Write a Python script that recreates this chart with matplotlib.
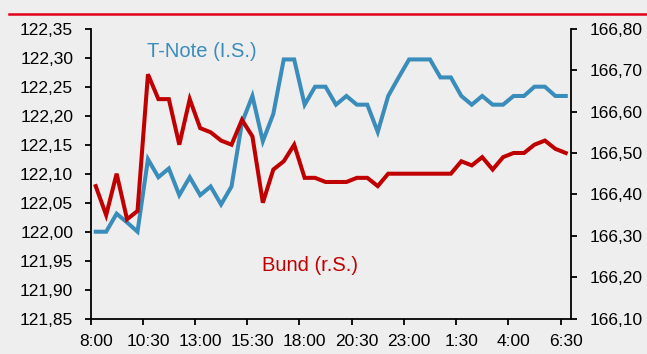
import numpy as np
import matplotlib
matplotlib.use("Agg")
import matplotlib.pyplot as plt
from matplotlib.ticker import FuncFormatter, FixedLocator, NullFormatter
from matplotlib.lines import Line2D

# half-hourly quotes, 8:00 to 6:30 next morning
tnote = [122.000, 122.000, 122.031, 122.016, 122.000, 122.125, 122.094, 122.109,
         122.063, 122.094, 122.063, 122.078, 122.047, 122.078, 122.188, 122.234,
         122.156, 122.203, 122.297, 122.297, 122.219, 122.250, 122.250, 122.219,
         122.234, 122.219, 122.219, 122.172, 122.234, 122.266, 122.297, 122.297,
         122.297, 122.266, 122.266, 122.234, 122.219, 122.234, 122.219, 122.219,
         122.234, 122.234, 122.250, 122.250, 122.234, 122.234]
bund = [166.42, 166.35, 166.45, 166.34, 166.36, 166.69, 166.63, 166.63,
        166.52, 166.63, 166.56, 166.55, 166.53, 166.52, 166.58, 166.54,
        166.38, 166.46, 166.48, 166.52, 166.44, 166.44, 166.43, 166.43,
        166.43, 166.44, 166.44, 166.42, 166.45, 166.45, 166.45, 166.45,
        166.45, 166.45, 166.45, 166.48, 166.47, 166.49, 166.46, 166.49,
        166.50, 166.50, 166.52, 166.53, 166.51, 166.50]
tick_labels = ["8:00", "10:30", "13:00", "15:30", "18:00",
               "20:30", "23:00", "1:30", "4:00", "6:30"]

BLUE = "#3a8cba"
RED = "#c00000"
BG = "#eeeeee"

plt.rcParams["font.family"] = ["Liberation Sans", "DejaVu Sans"]
plt.rcParams["font.size"] = 12.5


def comma_fmt(v, pos):
    return f"{v:.2f}".replace(".", ",")


fig = plt.figure(figsize=(6.47, 3.54), dpi=100, facecolor=BG)
ax = fig.add_axes([90.5 / 647, 35.3 / 354, 480.5 / 647, 290 / 354])
ax.set_facecolor("none")
ax2 = ax.twinx()

x = np.arange(len(tnote))
ax.plot(x, tnote, color=BLUE, lw=2.9, solid_joinstyle="miter")
ax2.plot(x, bund, color=RED, lw=2.9, solid_joinstyle="miter")

# category axis: tick marks between categories, labels on every 5th category
ax.set_xlim(-0.5, len(tnote) - 0.5)
ax.xaxis.set_major_locator(FixedLocator(np.arange(0, len(tnote), 5) - 0.5))
ax.xaxis.set_major_formatter(NullFormatter())
ax.xaxis.set_minor_locator(FixedLocator(np.arange(0, len(tnote), 5)))
ax.set_xticklabels(tick_labels, minor=True)

ax.set_ylim(121.85, 122.35)
ax.set_yticks(np.arange(121.85, 122.351, 0.05))
ax.yaxis.set_major_formatter(FuncFormatter(comma_fmt))
ax2.set_ylim(166.10, 166.80)
ax2.set_yticks(np.arange(166.10, 166.801, 0.10))
ax2.yaxis.set_major_formatter(FuncFormatter(comma_fmt))

for a in (ax, ax2):
    a.spines["top"].set_visible(False)
    for s in a.spines.values():
        s.set_linewidth(1.3)
ax.spines["right"].set_visible(False)
ax2.spines["left"].set_visible(False)
ax2.spines["bottom"].set_visible(False)

ax.tick_params(axis="x", which="major", direction="out", length=4, width=1.3)
ax.tick_params(axis="x", which="minor", length=0, pad=11)
ax.tick_params(axis="y", direction="out", length=4, width=1.3, pad=8.5)
ax2.tick_params(axis="y", direction="out", length=4, width=1.3, pad=9.5)

fig.text(147 / 647, 1 - 56.7 / 354, "T-Note (I.S.)", color=BLUE,
         fontsize=14.5, va="baseline", ha="left")
fig.text(262 / 647, 1 - 270.7 / 354, "Bund (r.S.)", color=RED,
         fontsize=14.5, va="baseline", ha="left")

# thin red rule along the top edge
fig.add_artist(Line2D([9 / 647, 1], [1 - 13.5 / 354] * 2,
                      transform=fig.transFigure, color="#e2001a", lw=1.8))

fig.savefig("out.png", dpi=100, facecolor=BG)
